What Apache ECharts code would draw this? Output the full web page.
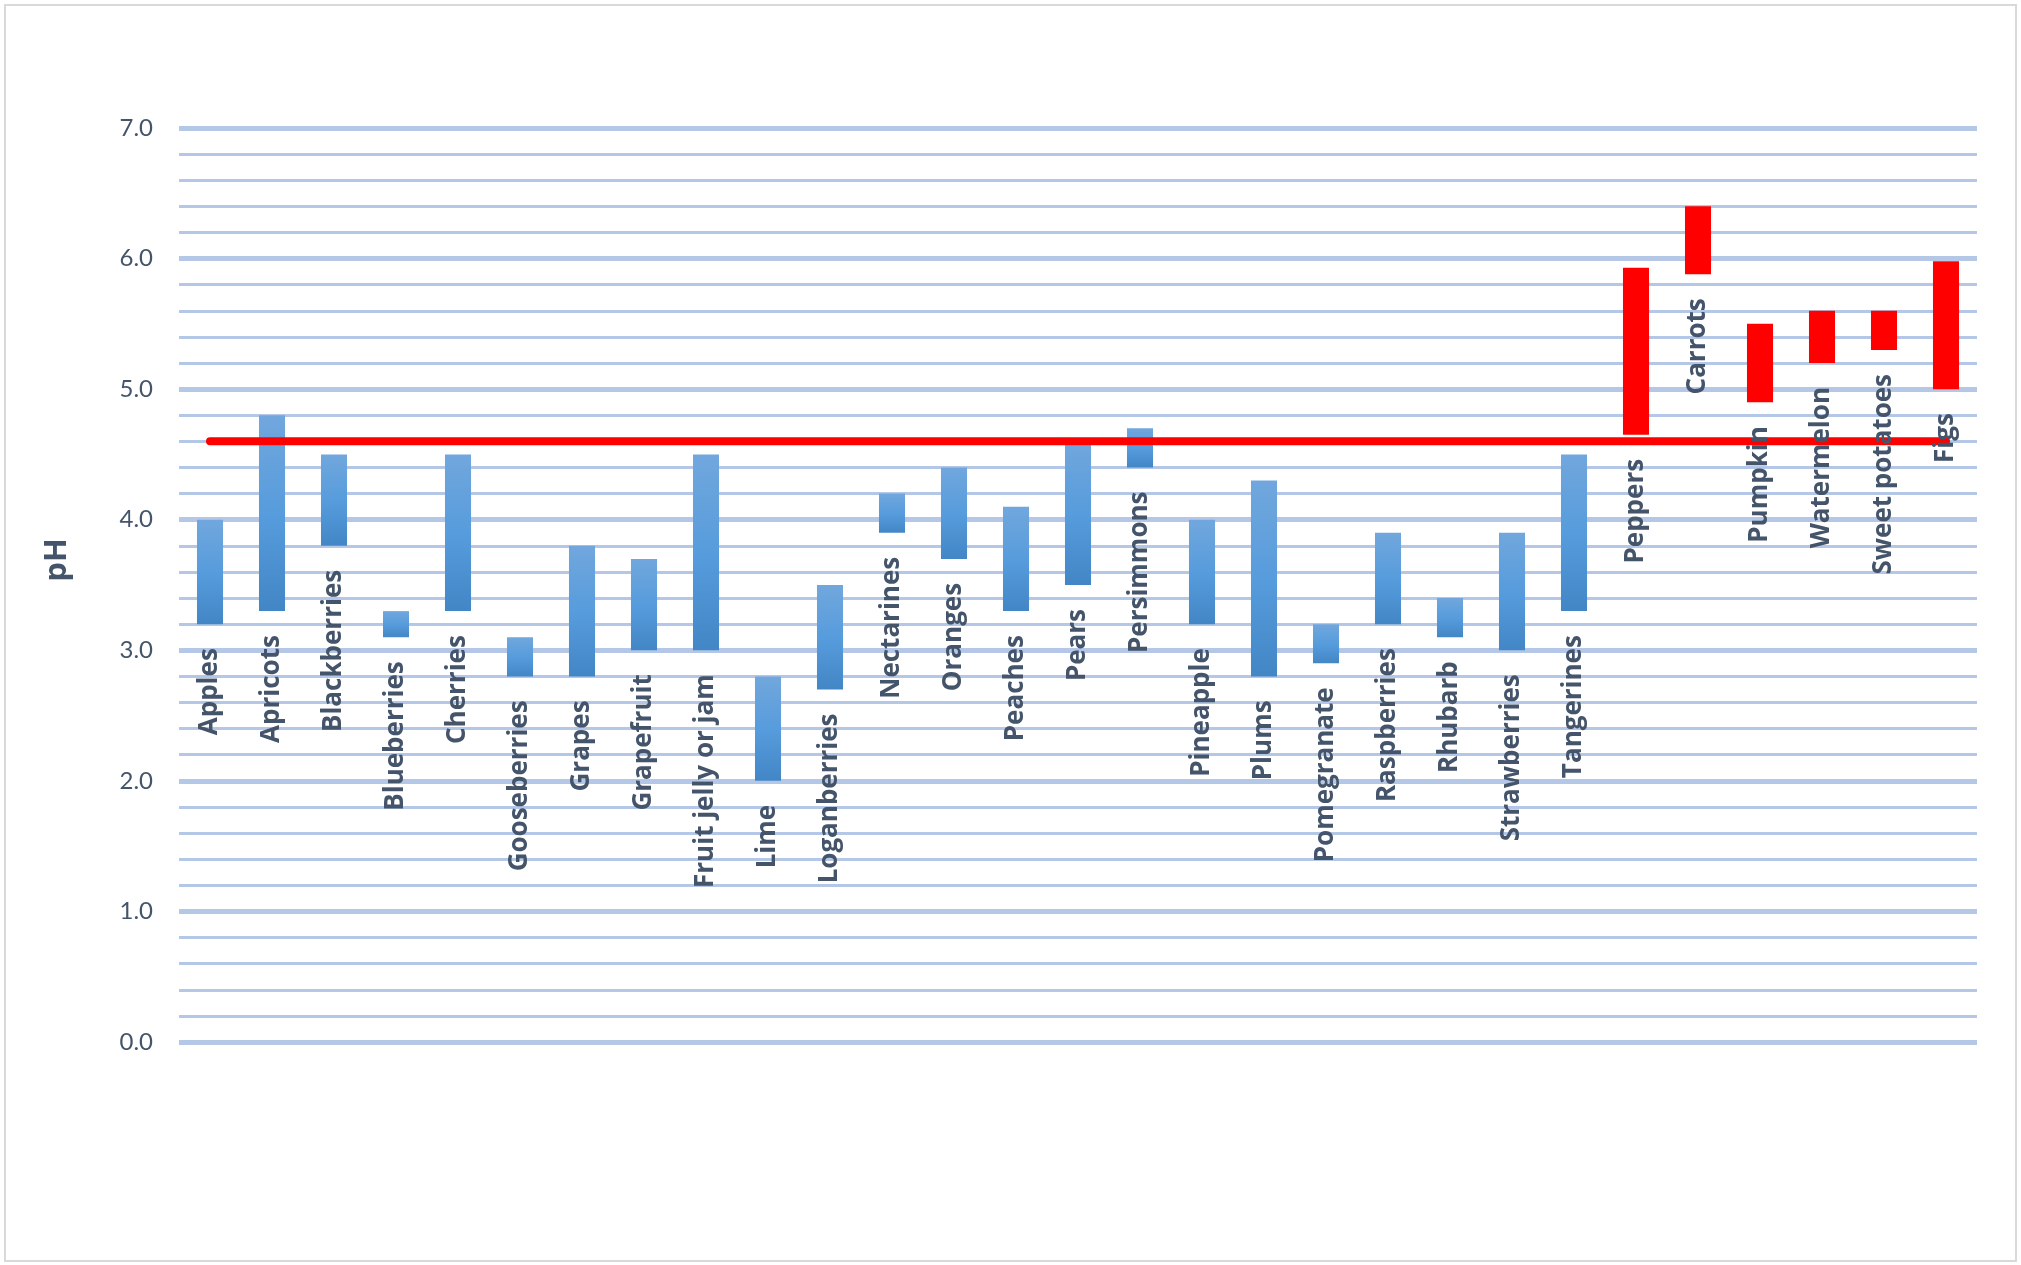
<!DOCTYPE html>
<html>
<head>
<meta charset="utf-8">
<script src="https://cdn.jsdelivr.net/npm/echarts@6/dist/echarts.min.js"></script>
<style>
  html, body { margin: 0; padding: 0; background: #ffffff; }
  #chart { width: 2021px; height: 1265px; }
</style>
</head>
<body>
<div id="chart"></div>
<script>
// ---- data ----
const categories = ['Apples', 'Apricots', 'Blackberries', 'Blueberries', 'Cherries', 'Gooseberries', 'Grapes', 'Grapefruit', 'Fruit jelly or jam', 'Lime', 'Loganberries', 'Nectarines', 'Oranges', 'Peaches', 'Pears', 'Persimmons', 'Pineapple', 'Plums', 'Pomegranate', 'Raspberries', 'Rhubarb', 'Strawberries', 'Tangerines', 'Peppers', 'Carrots', 'Pumpkin', 'Watermelon', 'Sweet potatoes', 'Figs'];
const lowValues  = [3.2, 3.3, 3.8, 3.1, 3.3, 2.8, 2.8, 3.0, 3.0, 2.0, 2.7, 3.9, 3.7, 3.3, 3.5, 4.4, 3.2, 2.8, 2.9, 3.2, 3.1, 3.0, 3.3, 4.65, 5.88, 4.9, 5.2, 5.3, 5.0];
const highValues = [4.0, 4.8, 4.5, 3.3, 4.5, 3.1, 3.8, 3.7, 4.5, 2.8, 3.5, 4.2, 4.4, 4.1, 4.6, 4.7, 4.0, 4.3, 3.2, 3.9, 3.4, 3.9, 4.5, 5.93, 6.4, 5.5, 5.6, 5.6, 5.98];
const groupOf    = ['acid', 'acid', 'acid', 'acid', 'acid', 'acid', 'acid', 'acid', 'acid', 'acid', 'acid', 'acid', 'acid', 'acid', 'acid', 'acid', 'acid', 'acid', 'acid', 'acid', 'acid', 'acid', 'acid', 'low', 'low', 'low', 'low', 'low', 'low'];
const thresholdPH = 4.6;
const yMin = 0, yMax = 7, yInterval = 1;
const yAxisTitle = 'pH';

// ---- styles ----
const blueGradient = {
  type: 'linear', x: 0, y: 0, x2: 0, y2: 1,
  colorStops: [
    { offset: 0, color: '#71A7DD' },
    { offset: 0.5, color: '#579CDC' },
    { offset: 1, color: '#4286C6' }
  ]
};
const redColor = '#FF0000';
const gridColor = '#B4C7E7';
const textColor = '#44546A';

const rangeData = categories.map((c, i) => ({
  value: +(highValues[i] - lowValues[i]).toFixed(3),
  itemStyle: { color: groupOf[i] === 'low' ? redColor : blueGradient }
}));

const chart = echarts.init(document.getElementById('chart'), null, { renderer: 'canvas' });
chart.setOption({
  backgroundColor: '#ffffff',
  animation: false,
  graphic: [{
    type: 'rect',
    shape: { x: 5, y: 5, width: 2011, height: 1256 },
    style: { fill: 'none', stroke: '#D9D9D9', lineWidth: 2 },
    silent: true, z: -1
  }],
  grid: { left: 179, right: 44, top: 128, bottom: 223, containLabel: false },
  xAxis: {
    type: 'category',
    data: categories,
    boundaryGap: true,
    axisLine: { show: false },
    axisTick: { show: false },
    axisLabel: { show: false },
    splitLine: { show: false }
  },
  yAxis: {
    type: 'value',
    min: yMin, max: yMax, interval: yInterval,
    name: yAxisTitle,
    nameLocation: 'middle',
    nameRotate: 90,
    nameGap: 106,
    nameTextStyle: { fontFamily: 'Open Sans', fontWeight: 'bold', fontSize: 31, color: textColor, padding: [0, 0, 0, 50] },
    axisLine: { show: false },
    axisTick: { show: false },
    axisLabel: {
      margin: 26, fontFamily: 'Lato', fontSize: 24, color: textColor,
      formatter: v => v.toFixed(1)
    },
    splitLine: { show: true, lineStyle: { color: gridColor, width: 5 } },
    minorTick: { show: false, splitNumber: 5 },
    minorSplitLine: { show: true, lineStyle: { color: gridColor, width: 3 } }
  },
  series: [
    {
      name: 'base',
      type: 'bar',
      stack: 'range',
      barWidth: '42%',
      data: lowValues,
      itemStyle: { color: 'rgba(0,0,0,0)' },
      silent: true,
      z: 4,
      label: {
        show: true,
        position: 'insideTop',
        distance: 24,
        rotate: 90,
        align: 'right',
        verticalAlign: 'middle',
        fontFamily: 'Open Sans',
        fontWeight: 'bold',
        fontSize: 26,
        color: textColor,
        formatter: p => p.name
      }
    },
    {
      name: 'pH range',
      type: 'bar',
      stack: 'range',
      barWidth: '42%',
      data: rangeData,
      z: 2
    },
    {
      name: 'threshold',
      type: 'line',
      data: [[categories[0], thresholdPH], [categories[categories.length - 1], thresholdPH]],
      symbol: 'none',
      lineStyle: { color: redColor, width: 8, cap: 'round' },
      z: 3
    }
  ]
});
</script>
</body>
</html>
